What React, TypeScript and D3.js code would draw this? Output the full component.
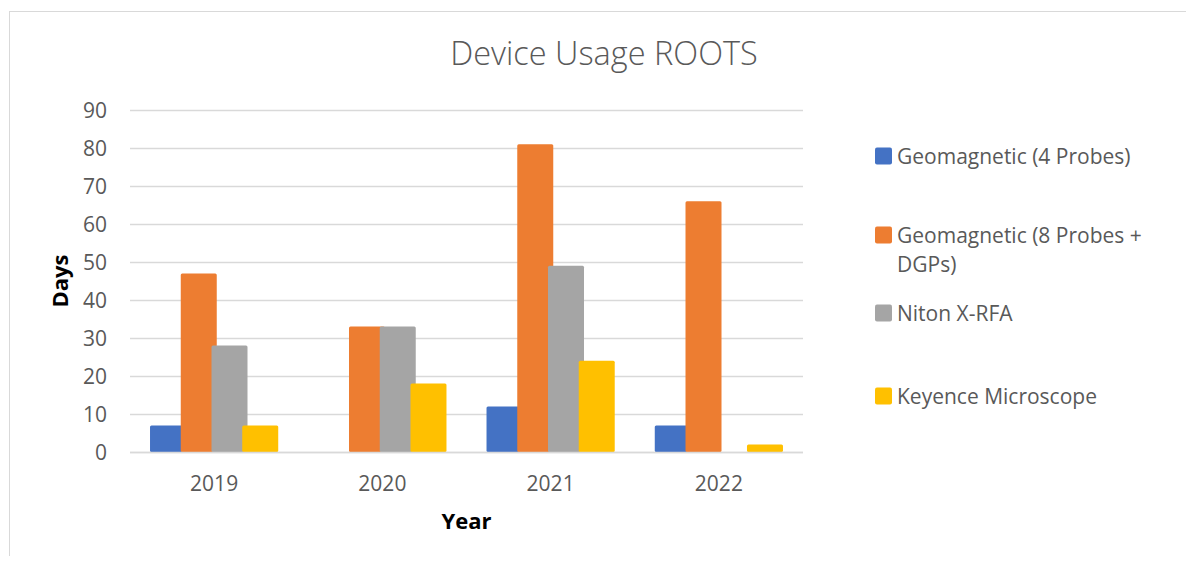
import React, { useEffect, useRef } from 'react';
import * as d3 from 'd3';

const years = ['2019', '2020', '2021', '2022'];
const seriesNames = [
    'Geomagnetic (4 Probes)',
    'Geomagnetic (8 Probes + DGPs)',
    'Niton X-RFA',
    'Keyence Microscope'
];
const geo4 = [7, 0, 12, 7];
const geo8 = [47, 33, 81, 66];
const niton = [28, 33, 49, 0];
const keyence = [7, 18, 24, 2];
const yTicks = [0, 10, 20, 30, 40, 50, 60, 70, 80, 90];

const colors = ['#4472C4', '#ED7D31', '#A5A5A5', '#FFC000'];
const FONT = "'Open Sans', 'Noto Sans', sans-serif";

const App: React.FC = () => {
    const svgRef = useRef<SVGSVGElement>(null);
    const width = 1194;
    const height = 564;

    useEffect(() => {
        if (!svgRef.current) return;
        const svg = d3.select(svgRef.current);
        svg.selectAll('*').remove();

        const values = [geo4, geo8, niton, keyence];
        const margin = { top: 110, left: 130, right: 391, bottom: 112 };
        const innerW = width - margin.left - margin.right;
        const innerH = height - margin.top - margin.bottom;

        // chart area border
        svg.append('rect')
            .attr('x', 9.5).attr('y', 11.5)
            .attr('width', width).attr('height', height)
            .attr('fill', '#fff')
            .attr('stroke', '#D9D9D9');

        svg.append('text')
            .attr('x', 604).attr('y', 65)
            .attr('text-anchor', 'middle')
            .attr('fill', '#595959')
            .style('font-family', FONT)
            .style('font-weight', 300)
            .style('font-size', '32.5px')
            .text('Device Usage ROOTS');

        const g = svg.append('g').attr('transform', `translate(${margin.left},${margin.top})`);

        const x0 = d3.scaleBand().domain(years).range([0, innerW]).paddingInner(0.238).paddingOuter(0.119);
        const barW = 36;
        // Excel-style overlapping series within a group
        const x1 = d3.scalePoint().domain(seriesNames).range([0, x0.bandwidth() - barW]);
        const y = d3.scaleLinear().domain([0, 90]).range([innerH, 0]);

        // gridlines
        g.selectAll('line.grid')
            .data(yTicks)
            .enter().append('line')
            .attr('x1', 0).attr('x2', innerW)
            .attr('y1', d => Math.round(y(d)) + 0.5)
            .attr('y2', d => Math.round(y(d)) + 0.5)
            .attr('stroke', '#D9D9D9')
            .attr('stroke-width', 1.5);

        g.selectAll('text.ytick')
            .data(yTicks)
            .enter().append('text')
            .attr('x', -23)
            .attr('y', d => y(d))
            .attr('dy', '0.36em')
            .attr('text-anchor', 'end')
            .attr('fill', '#595959')
            .style('font-family', FONT)
            .style('font-size', '21px')
            .text(d => d);

        // bars
        const groups = g.selectAll('g.year')
            .data(years)
            .enter().append('g')
            .attr('transform', d => `translate(${x0(d)},0)`);

        groups.selectAll('rect')
            .data((_, i) => seriesNames.map((s, k) => ({ s, k, v: values[k][i] })))
            .enter().append('rect')
            .filter(d => d.v > 0)
            .attr('x', d => x1(d.s) || 0)
            .attr('y', d => y(d.v))
            .attr('width', barW)
            .attr('height', d => innerH - y(d.v))
            .attr('rx', 1.5)
            .attr('fill', d => colors[d.k]);

        g.append('line')
            .attr('x1', 0).attr('x2', innerW)
            .attr('y1', innerH + 0.5).attr('y2', innerH + 0.5)
            .attr('stroke', '#D9D9D9')
            .attr('stroke-width', 1.5);

        // x labels
        g.selectAll('text.xtick')
            .data(years)
            .enter().append('text')
            .attr('x', d => (x0(d) || 0) + x0.bandwidth() / 2)
            .attr('y', innerH + 39)
            .attr('text-anchor', 'middle')
            .attr('fill', '#595959')
            .style('font-family', FONT)
            .style('font-size', '21px')
            .text(d => d);

        g.append('text')
            .attr('x', innerW / 2)
            .attr('y', innerH + 77)
            .attr('text-anchor', 'middle')
            .attr('fill', '#000')
            .style('font-family', FONT)
            .style('font-weight', 'bold')
            .style('font-size', '22px')
            .text('Year');

        g.append('text')
            .attr('transform', `translate(${-62},${innerH / 2}) rotate(-90)`)
            .attr('text-anchor', 'middle')
            .attr('fill', '#000')
            .style('font-family', FONT)
            .style('font-weight', 'bold')
            .style('font-size', '22px')
            .text('Days');

        // legend
        const legendY = [156, 235, 313, 396];
        const legend = svg.append('g').attr('transform', 'translate(875,0)');
        seriesNames.forEach((name, i) => {
            legend.append('rect')
                .attr('x', 0).attr('y', legendY[i] - 8.5)
                .attr('width', 17).attr('height', 17)
                .attr('rx', 2)
                .attr('fill', colors[i]);
            const lines = i === 1 ? ['Geomagnetic (8 Probes +', 'DGPs)'] : [name];
            lines.forEach((ln, j) => {
                legend.append('text')
                    .attr('x', 22).attr('y', legendY[i] + j * 29.5)
                    .attr('dy', '0.36em')
                    .attr('fill', '#595959')
                    .style('font-family', FONT)
                    .style('font-size', '21px')
                    .text(ln);
            });
        });
    }, []);

    return <svg ref={svgRef} width={width} height={height} style={{ display: 'block', margin: '-8px' }} />;
};

export default App;
